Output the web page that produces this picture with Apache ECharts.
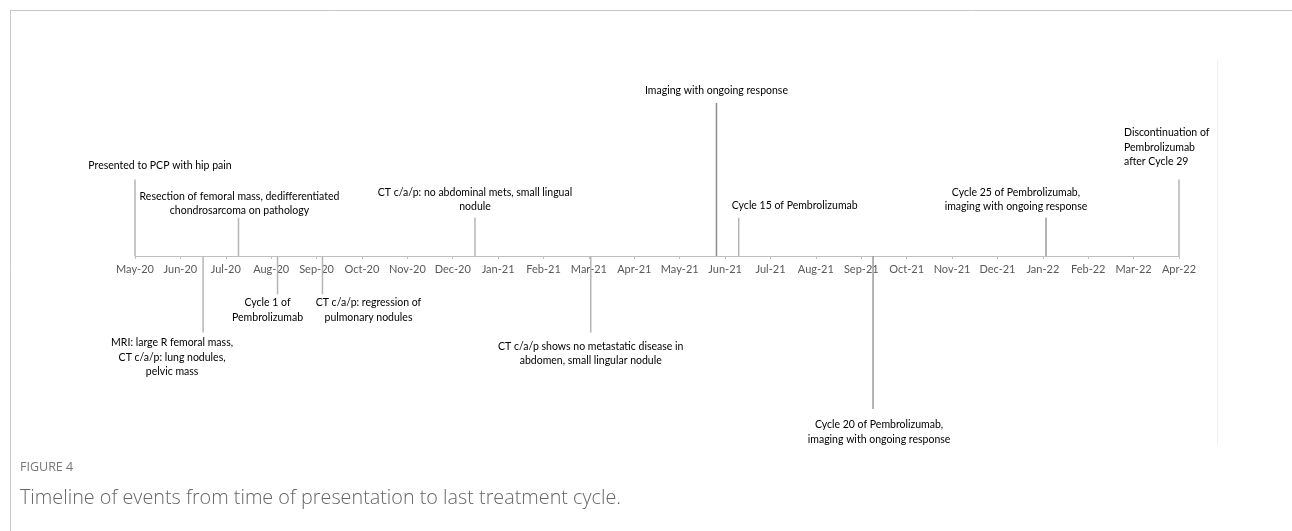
<!DOCTYPE html>
<html>
<head>
<meta charset="utf-8">
<script src="https://cdn.jsdelivr.net/npm/echarts@6/dist/echarts.min.js"></script>
<style>
html,body{margin:0;padding:0;background:#fff;}
#chart{width:1292px;height:531px;}
</style>
</head>
<body>
<div id="chart"></div>
<script>
// Tick labels (one per month, index 0 = May-20)
const monthLabels = ['May-20','Jun-20','Jul-20','Aug-20','Sep-20','Oct-20','Nov-20','Dec-20','Jan-21','Feb-21','Mar-21','Apr-21','May-21','Jun-21','Jul-21','Aug-21','Sep-21','Oct-21','Nov-21','Dec-21','Jan-22','Feb-22','Mar-22','Apr-22'];

// Event positions in months after May-20
const eventMonth = [0, 1.5, 2.28, 3.14, 4.13, 7.49, 10.04, 12.81, 13.30, 16.26, 20.07, 23];
// Event stem heights (timeline levels)
const eventHeight = [2, -2, 1, -1, -1, 1, -2, 4, 1, -4, 1, 2];
// Event descriptions
const eventText = [
  'Presented to PCP with hip pain',
  'MRI: large R femoral mass,\nCT c/a/p: lung nodules,\npelvic mass',
  'Resection of femoral mass, dedifferentiated\nchondrosarcoma on pathology',
  'Cycle 1 of\nPembrolizumab',
  'CT c/a/p: regression of\npulmonary nodules',
  'CT c/a/p: no abdominal mets, small lingual\nnodule',
  'CT c/a/p shows no metastatic disease in\nabdomen, small lingular nodule',
  'Imaging with ongoing response',
  'Cycle 15 of Pembrolizumab',
  'Cycle 20 of Pembrolizumab,\nimaging with ongoing response',
  'Cycle 25 of Pembrolizumab,\nimaging with ongoing response',
  'Discontinuation of\nPembrolizumab\nafter Cycle 29'
];

// Label placement relative to the stem end (layout only)
const labelLayout = [
  {dx: 25, dy: -14, align: 'center'},
  {dx: -31, dy: 25, align: 'center'},
  {dx: 1, dy: -14, align: 'center'},
  {dx: -10, dy: 16, align: 'center'},
  {dx: 46, dy: 16, align: 'center'},
  {dx: 0, dy: -18, align: 'center'},
  {dx: 0, dy: 21, align: 'center'},
  {dx: 0, dy: -12, align: 'center'},
  {dx: 56, dy: -12, align: 'center'},
  {dx: 6, dy: 23, align: 'center'},
  {dx: -30, dy: -18, align: 'center'},
  {dx: -55, dy: -32, align: 'left'}
];
const stemColor = ['#b5b5b5','#b5b5b5','#b5b5b5','#b5b5b5','#b5b5b5','#b5b5b5','#b5b5b5','#8c8c8c','#b5b5b5','#9a9a9a','#9a9a9a','#b5b5b5'];

const chart = echarts.init(document.getElementById('chart'), null, {renderer: 'canvas'});

const option = {
  backgroundColor: '#ffffff',
  animation: false,
  grid: {left: 135, right: 113, top: 103, bottom: 275},
  xAxis: {
    type: 'value',
    position: 'bottom',
    min: 0, max: 23, interval: 1,
    axisLine: {onZero: false, lineStyle: {color: '#bfbfbf', width: 1}},
    axisTick: {show: true, inside: false, length: 3, lineStyle: {color: '#bfbfbf'}},
    splitLine: {show: false},
    axisLabel: {
      margin: 8,
      color: '#595959',
      fontFamily: 'Lato',
      fontSize: 11,
      showMinLabel: true,
      showMaxLabel: true,
      formatter: function (v) { return monthLabels[Math.round(v)] || ''; }
    }
  },
  yAxis: {type: 'value', min: 0, max: 4, show: false},
  series: [{
    type: 'custom',
    clip: false,
    data: eventMonth.map(function (m, i) { return [m, eventHeight[i]]; }),
    renderItem: function (params, api) {
      const i = params.dataIndex;
      const x = api.value(0), h = api.value(1);
      const p0 = api.coord([x, 0]);
      const p1 = api.coord([x, h]);
      const L = labelLayout[i];
      return {
        type: 'group',
        children: [
          {type: 'line', shape: {x1: p0[0], y1: p0[1], x2: p1[0], y2: p1[1]},
           style: {stroke: stemColor[i], lineWidth: 1.5}},
          {type: 'text',
           style: {
             text: eventText[i],
             x: p1[0] + L.dx, y: p1[1] + L.dy,
             align: L.align, verticalAlign: 'middle',
             fill: '#000000',
             font: '10.5px Lato',
             lineHeight: 14.5
           }}
        ]
      };
    }
  }],
  graphic: [
    {type: 'line', shape: {x1: 10, y1: 10.5, x2: 1292, y2: 10.5}, style: {stroke: '#c8c8c8', lineWidth: 1}},
    {type: 'line', shape: {x1: 10.5, y1: 10, x2: 10.5, y2: 531}, style: {stroke: '#c8c8c8', lineWidth: 1}},
    {type: 'line', shape: {x1: 1217.5, y1: 60, x2: 1217.5, y2: 445}, style: {stroke: '#f0f0f0', lineWidth: 1}},
    {type: 'text', left: 20, top: 461, style: {text: 'FIGURE 4', fill: '#777777', font: '12.5px "Open Sans"'}},
    {type: 'text', left: 20, top: 488, style: {text: 'Timeline of events from time of presentation to last treatment cycle.', fill: '#666666', font: '300 19.8px "Open Sans"'}}
  ]
};
chart.setOption(option);
</script>
</body>
</html>
